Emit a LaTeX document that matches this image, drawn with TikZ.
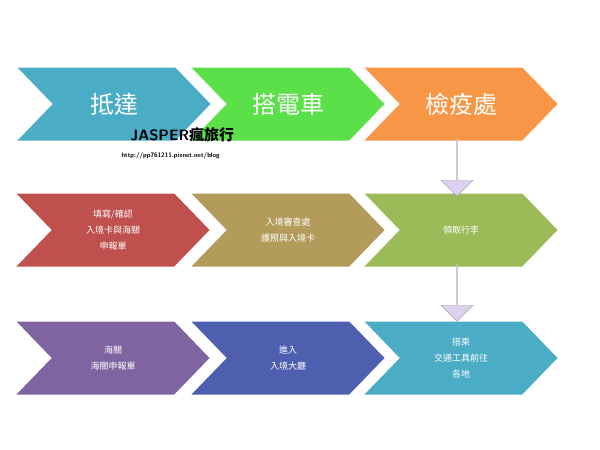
\documentclass[tikz,border=0pt]{standalone}
\usepackage{fontspec}
\newfontfamily\cjk{Noto Sans CJK TC}
\usetikzlibrary{shapes.symbols,shapes.arrows}
\definecolor{cA}{HTML}{4BACC6}\definecolor{cB}{HTML}{5CE04A}\definecolor{cC}{HTML}{F79646}
\definecolor{cD}{HTML}{C0504D}\definecolor{cE}{HTML}{B39B5C}\definecolor{cF}{HTML}{9BBB59}
\definecolor{cG}{HTML}{8064A2}\definecolor{cH}{HTML}{4F5FB0}\definecolor{cI}{HTML}{4BACC6}
\definecolor{arr}{HTML}{DDD0F0}
\tikzset{chev/.style={signal,signal from=west,signal to=east,signal pointer angle=92,
 minimum width=193pt,minimum height=73pt,inner sep=0pt,text=white,align=center,font=\cjk\fontsize{9}{16}\selectfont},
 big/.style={font=\cjk\fontsize{24}{28}\selectfont},
 down/.style={single arrow,draw=gray!70,fill=arr,shape border rotate=270,minimum height=58pt,minimum width=32pt,single arrow head extend=6pt,inner sep=0pt}}
\begin{document}
\begin{tikzpicture}[x=1pt,y=-1pt]
\useasboundingbox[fill=white] (0,0) rectangle (600,450);
\node[chev,big,fill=cA] (a) at (114,104) {抵達};
\node[chev,big,fill=cB] (b) at (288,104) {搭電車};
\node[chev,big,fill=cC] (c) at (461,104) {檢疫處};
\node[chev,fill=cD] (d) at (113,230) {填寫/確認\\入境卡與海關\\申報單};
\node[chev,fill=cE] (e) at (288,230) {入境審查處\\護照與入境卡};
\node[chev,fill=cF] (f) at (461,230) {領取行李};
\node[chev,fill=cG] (g) at (113,358) {海關\\海關申報單};
\node[chev,fill=cH] (h) at (288,358) {進入\\入境大廳};
\node[chev,fill=cI] (i) at (461,358) {搭乘\\交通工具前往\\各地};
\node[down] (ar1) at (457,167) {};
\node[down] (ar2) at (457,292) {};
\node[font=\sffamily\bfseries\fontsize{15}{17}\selectfont,anchor=west] (j) at (127,135) {JASPER{\cjk\bfseries 瘋旅行}};
\node[font=\sffamily\bfseries\fontsize{6.5}{8}\selectfont,anchor=west] (u) at (118,156) {http://pp761211.pixnet.net/blog};
\end{tikzpicture}
\end{document}
